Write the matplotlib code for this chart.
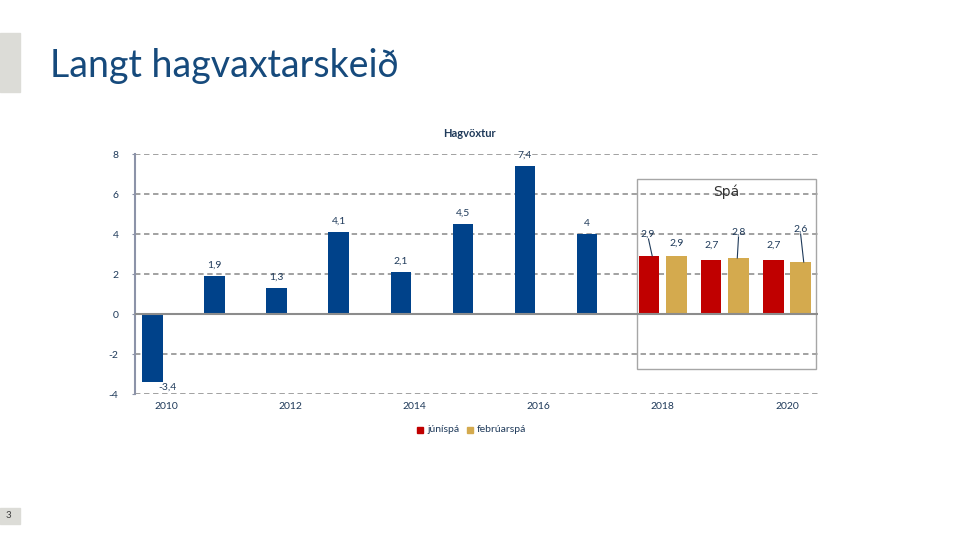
import numpy as np
import matplotlib
matplotlib.use("Agg")
import matplotlib.pyplot as plt
from matplotlib.patches import Rectangle

plt.rcParams['font.family'] = ['Lato', 'DejaVu Sans']

years = [2010, 2011, 2012, 2013, 2014, 2015, 2016, 2017, 2018, 2019, 2020]
juni = [-3.4, 1.9, 1.3, 4.1, 2.1, 4.5, 7.4, 4.0, 2.9, 2.7, 2.7]
februar = [None, None, None, None, None, None, None, None, 2.9, 2.8, 2.6]
tick_years = [2010, 2012, 2014, 2016, 2018, 2020]

navy = '#00428A'
red = '#C00000'
gold = '#D4AA4E'
txt = '#1F3A5A'
grid = '#9A9A9A'

fig = plt.figure(figsize=(9.6, 5.4), dpi=100)

# slide decoration
fig.patches.append(Rectangle((0, 1 - 92/540), 20/960, 59/540, transform=fig.transFigure,
                             color='#DCDCD7', zorder=0))
fig.text(50/960, 1 - 66/540, 'Langt hagvaxtarskeið', fontsize=27, color='#164A7C',
         va='center', ha='left')
fig.patches.append(Rectangle((0, 1 - 524/540), 20/960, 16/540, transform=fig.transFigure,
                             color='#DCDCD7', zorder=0))
fig.text(8/960, 1 - 516/540, '3', fontsize=7, color='#404040', va='center', ha='center')

ax = fig.add_axes([135/960, 1 - 394/540, 683/960, 240/540])
x = np.arange(len(years))
w = 0.33
off = 0.22

cols = [navy] * 8 + [red] * 3
ax.bar(x - off, juni, width=w, color=cols, zorder=3)
fx = [i for i, v in enumerate(februar) if v is not None]
fv = [februar[i] for i in fx]
ax.bar(np.array(fx) + off, fv, width=w, color=gold, zorder=3)

ax.set_xlim(-0.5, len(years) - 0.5)
ax.set_ylim(-4, 8)
ax.set_yticks([-4, -2, 0, 2, 4, 6, 8])
ax.set_yticklabels(['-4', '-2', '0', '2', '4', '6', '8'])
for y in [-4, -2, 2, 4, 6, 8]:
    ax.axhline(y, color=grid, lw=1.3, ls=(0, (3, 2)), zorder=1)
ax.axhline(0, color='#8C8C8C', lw=1.5, zorder=4)
for s in ['top', 'right', 'bottom']:
    ax.spines[s].set_visible(False)
ax.spines['left'].set_color('#8C93A8')
ax.spines['left'].set_linewidth(1.5)
ax.tick_params(axis='y', length=2, color='#8C93A8', labelsize=7.5, labelcolor=txt, pad=10)

ax.set_xticks([years.index(t) for t in tick_years])
ax.set_xticklabels([str(t) for t in tick_years])
ax.tick_params(axis='x', length=0, labelsize=7.5, labelcolor=txt, pad=6)

def fmt(v):
    s = ('%.1f' % v).replace('.', ',')
    return s[:-2] if s.endswith(',0') else s

# value labels
for i in range(8):
    v = juni[i]
    if v < 0:
        ax.text(i - off + 0.1, v - 0.05, fmt(v), ha='left', va='top', fontsize=7.5, color=txt)
    else:
        ax.text(i - off, v + 0.3, fmt(v), ha='center', va='bottom', fontsize=7.5, color=txt)

# forecast labels (some with leader lines)
lab_j = {8: (8 - off - 0.03, 3.75, True), 9: (9 - off, 3.2, False), 10: (10 - off, 3.2, False)}
lab_f = {8: (8 + off, 3.3, False), 9: (9 + off, 3.85, True), 10: (10 + off, 4.0, True)}
for i, (lx, ly, lead) in lab_j.items():
    ax.text(lx, ly, fmt(juni[i]), ha='center', va='bottom', fontsize=7.5, color=txt)
    if lead:
        ax.plot([lx + 0.02, i - off + 0.05], [ly, juni[i]], color=txt, lw=0.8, zorder=5)
for i, (lx, ly, lead) in lab_f.items():
    ax.text(lx, ly, fmt(februar[i]), ha='center', va='bottom', fontsize=7.5, color=txt)
    if lead:
        ax.plot([lx, i + off - 0.02 if i == 9 else i + off + 0.05], [ly, februar[i]],
                color=txt, lw=0.8, zorder=5)

# forecast box
ax.add_patch(Rectangle((7.58, -2.75), 2.89, 9.5, fill=False, edgecolor='#A6A6A6',
                       lw=1.0, zorder=2, clip_on=False))
ax.text(9.03, 6.1, 'Spá', ha='center', va='center', fontsize=10, color='#333333',
        family='DejaVu Sans', zorder=5)

ax.set_title('Hagvöxtur', fontsize=8, fontweight='bold', color=txt, pad=12, x=0.49)

# legend
fig.patches.append(Rectangle((417/960, 1 - 433/540), 6/960, 6/540, transform=fig.transFigure,
                             color=red))
fig.text(427/960, 1 - 430/540, 'júníspá', fontsize=7.5, color=txt, va='center')
fig.patches.append(Rectangle((467/960, 1 - 433/540), 6/960, 6/540, transform=fig.transFigure,
                             color=gold))
fig.text(477/960, 1 - 430/540, 'febrúarspá', fontsize=7.5, color=txt, va='center')

fig.savefig('out.png', dpi=100)
